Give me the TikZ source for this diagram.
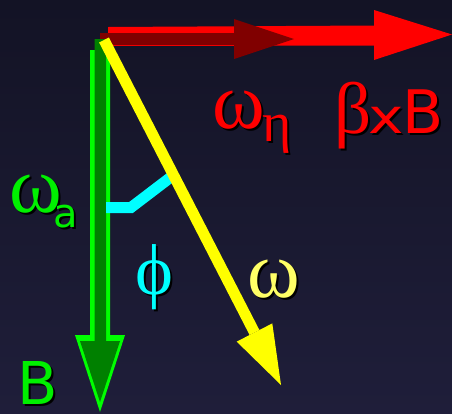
\documentclass[tikz,border=0pt]{standalone}
\usepackage{fontspec}
\setmainfont{DejaVu Sans}
\newfontfamily\gk{Liberation Serif}
\definecolor{bgtop}{RGB}{19,19,37}
\definecolor{bgbot}{RGB}{31,30,58}
\definecolor{brred}{RGB}{255,0,0}
\definecolor{dkred}{RGB}{128,0,0}
\definecolor{brgreen}{RGB}{0,255,0}
\definecolor{dkgreen}{RGB}{0,128,0}
\definecolor{txgreen}{RGB}{0,240,0}
\definecolor{yel}{RGB}{255,255,0}
\definecolor{paleyel}{RGB}{255,255,102}
\definecolor{cy}{RGB}{0,255,255}
\tikzset{
  txt/.style={inner sep=0pt, anchor=base west},
}
\newcommand{\shtext}[4]{%
  \node[txt, text=black, xshift=2.5pt, yshift=-2.5pt] (#1s) at #2 {#4};
  \node[txt, text=#3] (#1) at #2 {#4};}
\newcommand{\fsz}[1]{\fontsize{#1}{#1}\selectfont}
\begin{document}
\begin{tikzpicture}[x=1pt, y=-1pt]
\shade[top color=bgtop, bottom color=bgbot] (0,0) rectangle (452,413);
\useasboundingbox (0,0) rectangle (452,413);
% red arrows
\fill[brred] (108,27) -- (374,25.5) -- (374,10) -- (452,34.5) -- (374,60) -- (374,45.5) -- (108,46) -- cycle;
\fill[dkred] (100,33) -- (234,33) -- (234,19) -- (294,39) -- (234,59) -- (234,45) -- (100,45) -- cycle;
% green arrows
\fill[brgreen] (90,50) -- (90,335) -- (75,335) -- (100,412) -- (125,335) -- (110,335) -- (110,50) -- cycle;
\fill[dkgreen] (94.5,39) -- (94.5,341) -- (80,341) -- (100,402) -- (120,341) -- (106,341) -- (106,39) -- cycle;
% angle marker
\coordinate (c1) at (106,207.5);
\coordinate (c2) at (131,207.5);
\coordinate (c3) at (171,177);
\draw[cy, line width=11pt, line join=miter] (c1) -- (c2) -- (c3);
% yellow arrow
\coordinate (yo) at (104,40);
\coordinate (yb) at (254.5,332.5);
\coordinate (yl) at (236.7,341.6);
\coordinate (yr) at (272.3,323.4);
\coordinate (yt) at (281,385);
\draw[yel, line width=11pt] (yo) -- (yb);
\fill[yel] (yl) -- (yt) -- (yr) -- cycle;
% labels
\shtext{wa}{(9,212)}{txgreen}{\gk\fsz{80}ω}
\shtext{wasub}{(53,227)}{txgreen}{\fsz{40}a}
\shtext{bg}{(17,404)}{txgreen}{\fsz{59}B}
\shtext{phi}{(135,294)}{cy}{\gk\fsz{72}ϕ}
\shtext{wy}{(247,297)}{paleyel}{\gk\fsz{80}ω}
\shtext{wr}{(212,128)}{brred}{\gk\fsz{80}ω}
\shtext{eta}{(262,141)}{brred}{\gk\fsz{56}η}
\shtext{beta}{(334,133)}{brred}{\gk\fsz{73}β}
\shtext{times}{(368,133)}{brred}{\fsz{48}\scalebox{1.25}[1]{x}}
\shtext{br}{(402,133)}{brred}{\fsz{60}B}
\end{tikzpicture}
\end{document}
